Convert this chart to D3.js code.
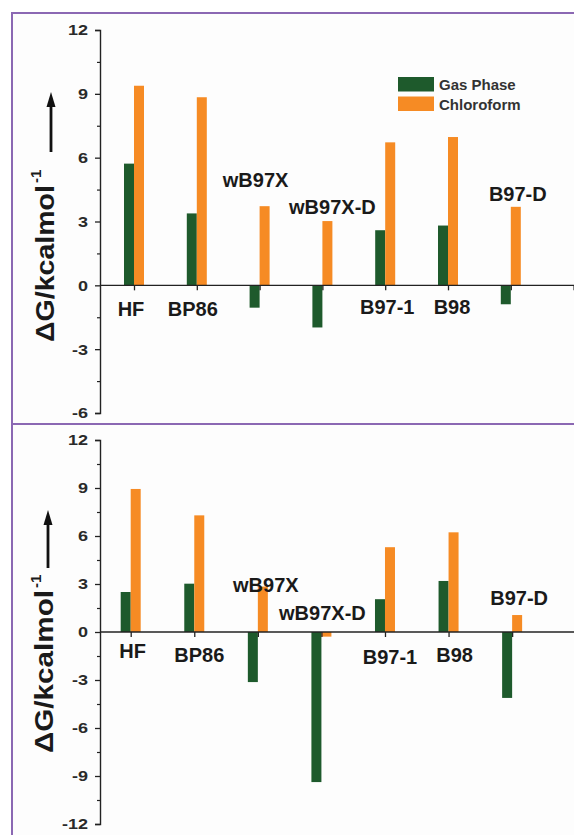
<!DOCTYPE html>
<html>
<head>
<meta charset="utf-8">
<script src="https://cdn.jsdelivr.net/npm/d3@7"></script>
<style>
  body { margin: 0; background: #fff; }
  svg { display: block; font-family: "Liberation Sans", Arial, sans-serif; }
</style>
</head>
<body>
<svg id="chart" width="574" height="835"></svg>
<script>
// data (kcal/mol)
const categories = ["HF", "BP86", "wB97X", "wB97X-D", "B97-1", "B98", "B97-D"];
const gasTop = [5.72, 3.38, -1.05, -1.98, 2.59, 2.81, -0.89];
const chloroTop = [9.38, 8.84, 3.72, 3.02, 6.72, 6.97, 3.69];
const gasBottom = [2.50, 3.02, -3.13, -9.38, 2.05, 3.19, -4.12];
const chloroBottom = [8.94, 7.29, 2.84, -0.29, 5.30, 6.23, 1.06];
const yTicksTop = [-6, -3, 0, 3, 6, 9, 12];
const yTicksBottom = [-12, -9, -6, -3, 0, 3, 6, 9, 12];
const seriesNames = ["Gas Phase", "Chloroform"];

const green = "#1e5a2c", orange = "#f68b24", purple = "#8b68b3";

// per panel layout (label placement is hand tuned like the original)
const panels = [
  {
    gas: gasTop, chloro: chloroTop, ticks: yTicksTop,
    yRange: [413, 30], xRange: [134, 573.6],
    labelDx: [-3, -4, -4, 10, 2, 4, 7],
    labelY: [-1.45, -1.45, 4.6, 3.33, -1.36, -1.36, 3.94],
    title: { x: 54, y: 342, len: 157, supX: 41, supY: 183, arrowX: 51, arrowY: [152, 92] },
    legend: true
  },
  {
    gas: gasBottom, chloro: chloroBottom, ticks: yTicksBottom,
    yRange: [824, 440], xRange: [130.7, 575.7],
    labelDx: [2, 5, 8, 1, 5, 6, 7],
    labelY: [-1.6, -1.9, 2.5, 0.78, -2.03, -1.9, 1.71],
    title: { x: 53, y: 753, len: 163, supX: 41, supY: 588, arrowX: 48, arrowY: [568, 510] },
    legend: false
  }
];

const svg = d3.select("#chart");

// panel background
svg.append("rect").attr("x", 12).attr("y", 13).attr("width", 562).attr("height", 822).attr("fill", "#fdfdfd");

panels.forEach(p => {
  const lo = p.ticks[0], hi = p.ticks[p.ticks.length - 1];
  const y = d3.scaleLinear().domain([lo, hi]).range(p.yRange);
  const x = d3.scaleLinear().domain([0, 7]).range(p.xRange);
  const bw = 10;
  const g = svg.append("g");

  // bars
  g.selectAll(".gas").data(p.gas).enter().append("rect")
    .attr("x", (d, i) => x(i) - bw)
    .attr("y", d => y(Math.max(0, d)))
    .attr("width", bw)
    .attr("height", d => Math.abs(y(d) - y(0)))
    .attr("fill", green);
  g.selectAll(".chl").data(p.chloro).enter().append("rect")
    .attr("x", (d, i) => x(i))
    .attr("y", d => y(Math.max(0, d)))
    .attr("width", bw)
    .attr("height", d => Math.abs(y(d) - y(0)))
    .attr("fill", orange);

  // y axis, major + minor ticks (labels drawn by hand, a bit wide like the original)
  const yAxis = g.append("g").attr("transform", "translate(100,0)")
    .call(d3.axisLeft(y).tickValues(p.ticks).tickSize(5).tickFormat(""));
  yAxis.select(".domain").attr("stroke", "#222").attr("stroke-width", 1.4);
  yAxis.selectAll(".tick line").attr("stroke", "#222").attr("stroke-width", 1.3);
  g.selectAll(".ylab").data(p.ticks).enter().append("g")
    .attr("transform", d => `translate(88,${y(d)}) scale(1.2,1)`)
    .append("text")
    .attr("dy", "0.36em")
    .attr("text-anchor", "end")
    .attr("font-size", 15).attr("font-weight", "bold").attr("fill", "#2a2a2a")
    .text(d => d < 0 ? "-" + Math.abs(d) : d);
  const minor = d3.range(lo + 1.5, hi, 3);
  g.append("g").attr("transform", "translate(100,0)")
    .call(d3.axisLeft(y).tickValues(minor).tickSize(3).tickFormat(""))
    .call(a => a.select(".domain").remove())
    .selectAll("line").attr("stroke", "#222").attr("stroke-width", 1.2);

  // x axis on the zero line
  const xAxis = g.append("g").attr("transform", `translate(0,${y(0)})`)
    .call(d3.axisBottom(x).tickValues(d3.range(8)).tickSize(5).tickFormat(""));
  xAxis.select(".domain").remove();
  xAxis.selectAll("line").attr("stroke", "#222").attr("stroke-width", 1.3);
  g.append("line").attr("x1", 100).attr("x2", 574).attr("y1", y(0)).attr("y2", y(0))
    .attr("stroke", "#222").attr("stroke-width", 1.4);

  // category labels
  g.selectAll(".cat").data(categories).enter().append("text")
    .attr("x", (d, i) => x(i) + p.labelDx[i])
    .attr("y", (d, i) => y(p.labelY[i]))
    .attr("text-anchor", "middle")
    .attr("font-size", 20).attr("font-weight", "bold").attr("fill", "#1a1a1a")
    .text(d => d);

  // axis title with arrow
  const t = p.title;
  g.append("text").attr("transform", `translate(${t.x},${t.y}) rotate(-90)`)
    .attr("font-size", 25).attr("font-weight", "bold").attr("fill", "#1a1a1a")
    .attr("textLength", t.len).attr("lengthAdjust", "spacingAndGlyphs")
    .text("\u0394G/kcalmol");
  g.append("text").attr("transform", `translate(${t.supX},${t.supY}) rotate(-90)`)
    .attr("font-size", 15).attr("font-weight", "bold").attr("fill", "#1a1a1a")
    .text("-1");
  const [a0, a1] = t.arrowY;
  g.append("line").attr("x1", t.arrowX).attr("x2", t.arrowX)
    .attr("y1", a0).attr("y2", a1 + 12)
    .attr("stroke", "#111").attr("stroke-width", 2.8);
  g.append("path")
    .attr("d", `M${t.arrowX},${a1} L${t.arrowX + 4.5},${a1 + 15} L${t.arrowX - 4.5},${a1 + 15} Z`)
    .attr("fill", "#111");

  if (p.legend) {
    const lg = g.append("g").attr("transform", "translate(398,77)");
    const cols = [green, orange];
    seriesNames.forEach((s, i) => {
      lg.append("rect").attr("x", 0).attr("y", i * 19.5).attr("width", 36).attr("height", 14.5).attr("fill", cols[i]);
      lg.append("text").attr("x", 41).attr("y", i * 19.5 + 13)
        .attr("font-size", 15).attr("font-weight", "bold").attr("fill", "#333").text(s);
    });
  }
});

// purple frame lines
svg.append("line").attr("x1", 12).attr("x2", 574).attr("y1", 13).attr("y2", 13).attr("stroke", purple).attr("stroke-width", 2);
svg.append("line").attr("x1", 12).attr("x2", 574).attr("y1", 424).attr("y2", 424).attr("stroke", purple).attr("stroke-width", 2);
svg.append("line").attr("x1", 12).attr("x2", 12).attr("y1", 12).attr("y2", 835).attr("stroke", purple).attr("stroke-width", 2);
</script>
</body>
</html>
